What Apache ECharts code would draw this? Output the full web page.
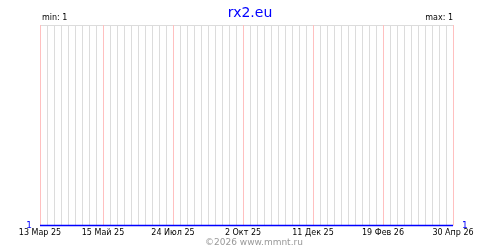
<!DOCTYPE html>
<html>
<head>
<meta charset="utf-8">
<script src="https://cdn.jsdelivr.net/npm/echarts@6/dist/echarts.min.js"></script>
<style>html,body{margin:0;padding:0;background:#fff}#c{width:500px;height:250px}</style>
</head>
<body>
<div id="c"></div>
<script>
const titleText = 'rx2.eu';
const minText = 'min: 1';
const maxText = 'max: 1';
const footerText = '©2026 www.mmnt.ru';
const startDate = '2025-03-13';
const weekCount = 60;
const monthNames = ['Янв','Фев','Мар','Апр','Май','Июн','Июл','Авг','Сен','Окт','Ноя','Дек'];
const majorIndices = [0, 9, 19, 29, 39, 49, 59];
const tickLabels = ['13 Мар 25','15 Май 25','24 Июл 25','2 Окт 25','11 Дек 25','19 Фев 26','30 Апр 26'];
const values = [1,1,1,1,1,1,1,1,1,1, 1,1,1,1,1,1,1,1,1,1, 1,1,1,1,1,1,1,1,1,1,
                1,1,1,1,1,1,1,1,1,1, 1,1,1,1,1,1,1,1,1,1, 1,1,1,1,1,1,1,1,1,1];
const yLabels = ['1'];

const categories = [];
const d0 = new Date(startDate + 'T00:00:00Z');
for (let i = 0; i < weekCount; i++) {
  const d = new Date(d0.getTime() + i * 7 * 86400000);
  categories.push(d.getUTCDate() + ' ' + monthNames[d.getUTCMonth()] + ' ' + String(d.getUTCFullYear()).slice(2));
}
const isMajor = (i) => majorIndices.indexOf(i) >= 0;

const chart = echarts.init(document.getElementById('c'), null, {renderer: 'canvas'});
chart.setOption({
  animation: false,
  backgroundColor: '#fff',
  grid: {left: 40, right: 47, top: 25, bottom: 24.5, containLabel: false},
  title: {
    text: titleText, left: 'center', top: 1,
    textStyle: {color: '#0000ff', fontSize: 14, fontWeight: 'normal', fontFamily: 'DejaVu Sans'}
  },
  graphic: [
    {type: 'text', left: 42, top: 14, style: {text: minText, fill: '#000', font: '8px "DejaVu Sans"'}},
    {type: 'text', right: 47, top: 14, style: {text: maxText, fill: '#000', font: '8px "DejaVu Sans"', textAlign: 'right'}},
    {type: 'text', left: 205, top: 238, style: {text: footerText, fill: '#999999', font: '9px "DejaVu Sans"'}}
  ],
  xAxis: [
    {
      type: 'category', data: categories, boundaryGap: false, position: 'top',
      axisLine: {show: false}, axisTick: {show: false}, axisLabel: {show: false},
      splitLine: {show: true, interval: (i) => !isMajor(i), lineStyle: {color: '#dcdcdc', width: 1}}
    },
    {
      type: 'category', data: categories, boundaryGap: false, position: 'bottom',
      axisLine: {show: false}, axisTick: {show: false},
      axisLabel: {
        show: true, margin: 3, color: '#000', fontSize: 8, fontFamily: 'DejaVu Sans',
        interval: (i) => isMajor(i),
        formatter: (v, i) => { const k = majorIndices.indexOf(i); return k >= 0 ? tickLabels[k] : ''; }
      },
      splitLine: {show: true, interval: (i) => isMajor(i), lineStyle: {color: '#ffc0c0', width: 1}}
    }
  ],
  yAxis: [
    {
      type: 'value', min: 1, max: 2, interval: 1, position: 'left',
      axisLine: {show: false}, axisTick: {show: false},
      axisLabel: {margin: 8, color: '#0000ff', fontSize: 9, fontFamily: 'DejaVu Sans',
        formatter: (v) => v === 1 ? yLabels[0] : ''},
      splitLine: {show: true, lineStyle: {color: '#dcdcdc', width: 1}}
    },
    {
      type: 'value', min: 1, max: 2, interval: 1, position: 'right',
      axisLine: {show: false}, axisTick: {show: false},
      axisLabel: {margin: 9, color: '#0000ff', fontSize: 9, fontFamily: 'DejaVu Sans',
        formatter: (v) => v === 1 ? yLabels[0] : ''},
      splitLine: {show: false}
    }
  ],
  series: [{
    type: 'line', data: values, xAxisIndex: 0, yAxisIndex: 0, z: 5, clip: false,
    showSymbol: false, symbol: 'none',
    lineStyle: {color: '#0000ff', width: 1.5}
  }]
});
</script>
</body>
</html>
